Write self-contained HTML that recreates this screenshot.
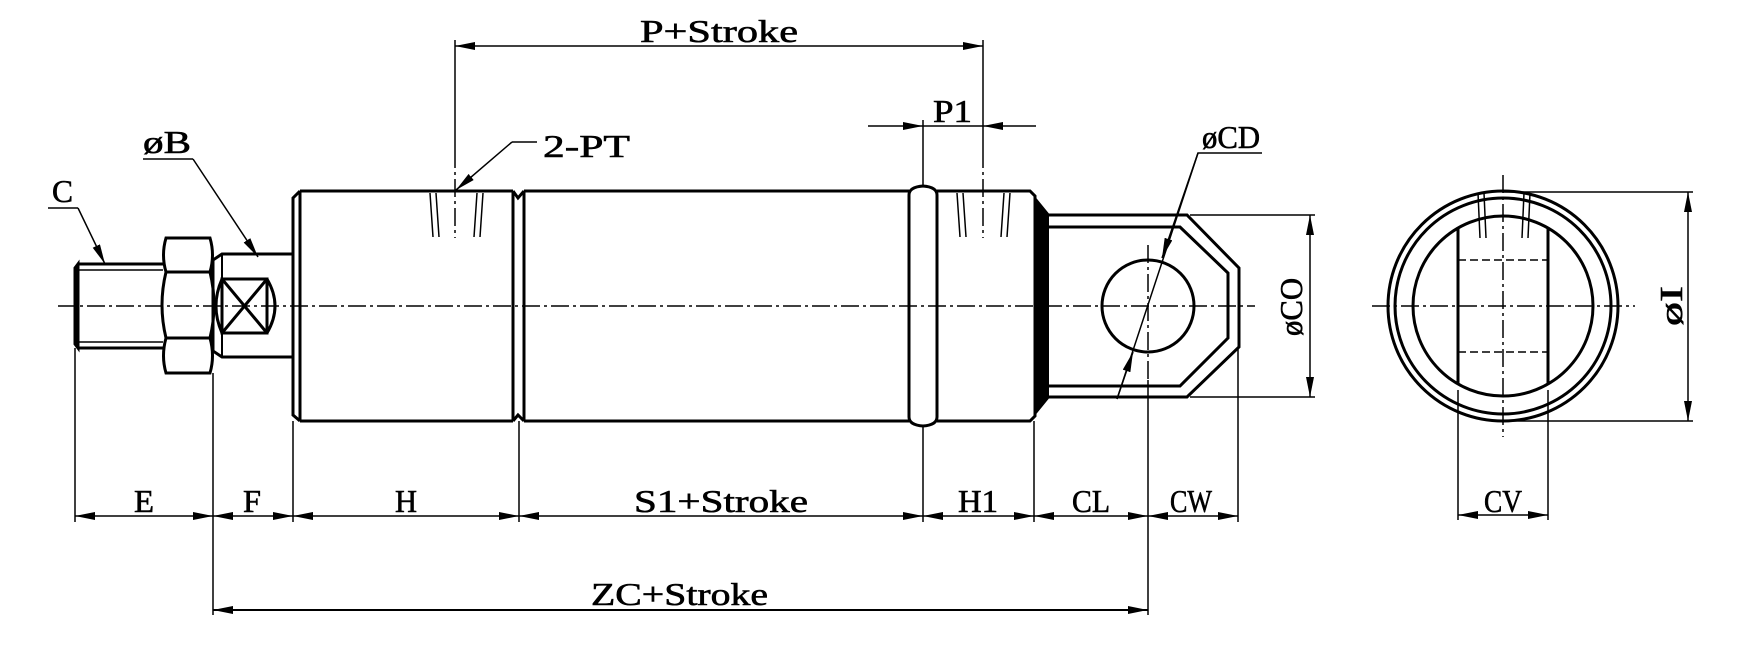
<!DOCTYPE html>
<html><head><meta charset="utf-8"><style>
html,body{margin:0;padding:0;background:#fff;}
svg{display:block;}
text{font-family:"Liberation Serif",serif;fill:#000;}
</style></head><body>
<svg width="1739" height="648" viewBox="0 0 1739 648" xmlns="http://www.w3.org/2000/svg">
<defs>
<marker id="a" viewBox="0 0 20 8" refX="20" refY="4" markerWidth="20" markerHeight="8" markerUnits="userSpaceOnUse" orient="auto-start-reverse"><path d="M0,0 L20,4 L0,8 Z" fill="#000"/></marker>
</defs>
<g stroke="#000" fill="none">
<g stroke-width="1.5" stroke-dasharray="18,4,3,4">
<line x1="58" y1="306" x2="1255" y2="306"/>
<line x1="1372" y1="306" x2="1635" y2="306"/>
<line x1="1503" y1="175" x2="1503" y2="437"/>
<line x1="1148" y1="245" x2="1148" y2="380"/>
<line x1="455" y1="150" x2="455" y2="238"/>
<line x1="983" y1="150" x2="983" y2="238"/>
</g>
<g stroke-width="3">
<path d="M78,264 L163,264 M78,348 L163,348 M78,264 L75,268 L75,344 L78,348 Z"/>
</g>
<g stroke-width="1.5"><line x1="78" y1="270" x2="163" y2="270"/><line x1="78" y1="342" x2="163" y2="342"/><line x1="78" y1="264" x2="78" y2="348"/></g>
<g stroke-width="3">
<path d="M166,238 L210,238 Q215,255 210,272 L166,272 Q161,255 166,238 Z"/>
<path d="M166,272 L210,272 Q218,305 210,338 L166,338 Q158,305 166,272 Z"/>
<path d="M166,338 L210,338 Q215,356 210,373 L166,373 Q161,356 166,338 Z"/>
</g>
<g stroke-width="3">
<path d="M292,254 L222,254 L213,260 L213,351 L222,357 L292,357"/>
<line x1="222" y1="254" x2="222" y2="357" stroke-width="2"/>
<rect x="222" y="279" width="45" height="54"/>
<path d="M222,279 L267,333 M267,279 L222,333"/>
<path d="M267,279 Q283,306 267,333"/>
<path d="M222,279 Q210,306 222,333"/>
</g>
<g stroke-width="3">
<path d="M300,191 L513,191 M300,421 L513,421"/>
<path d="M300,191 L293,198 L293,415 L300,421"/>
<line x1="300" y1="191" x2="300" y2="421"/>
<line x1="513" y1="191" x2="513" y2="421"/>
<path d="M513,191 L518,198 L524,191"/>
<path d="M513,421 L518,415 L524,421"/>
<line x1="524" y1="191" x2="524" y2="421"/>
<path d="M524,191 L909,191 M524,421 L909,421"/>
<path d="M909,195 Q909,187 923,186 Q937,187 937,195 L937,417 Q937,425 923,426 Q909,425 909,417 Z"/>
<path d="M937,191 L1030,191 L1035,196 L1035,416 L1030,421 L937,421"/>
</g>
<polygon points="1035,198 1048,214 1048,398 1035,414" fill="#000" stroke="#000" stroke-width="2"/>
<g stroke-width="3">
<path d="M1048,215 L1187,215 L1239,268 L1239,347 L1187,397 L1048,397"/>
<path d="M1048,227 L1180,227 L1228,273 L1228,338 L1180,386 L1048,386"/>
<circle cx="1148" cy="306" r="46"/>
</g>
<g stroke-width="1.5">
<path d="M430,193 L433,237 M436,193 L439,237 M477,193 L474,237 M483,193 L480,237"/>
<path d="M957,193 L960,237 M963,193 L966,237 M1004,193 L1001,237 M1010,193 L1007,237"/>
<path d="M1478,193 L1480,238 M1484,193 L1486,238 M1530,193 L1528,238 M1524,193 L1522,238"/>
</g>
<g stroke-width="3">
<circle cx="1503" cy="306" r="115"/>
<circle cx="1503" cy="306" r="108"/>
<circle cx="1503" cy="306" r="90"/>
<line x1="1458" y1="227" x2="1458" y2="384"/>
<line x1="1548" y1="227" x2="1548" y2="384"/>
</g>
<g stroke-width="1.5" stroke-dasharray="8,4">
<line x1="1458" y1="260" x2="1548" y2="260"/><line x1="1458" y1="352" x2="1548" y2="352"/>
</g>
<g stroke-width="1.5">
<path d="M48,208 L78,208"/>
<path d="M143,159 L193,159"/>
<path d="M537,142 L512,142"/>
<path d="M1262,153 L1198,153 L1117,399"/>
<line x1="1198" y1="153" x2="1162" y2="258" marker-end="url(#a)"/>
<line x1="1117" y1="399" x2="1133" y2="352" marker-end="url(#a)"/>
<line x1="78" y1="208" x2="105" y2="264" marker-end="url(#a)"/>
<line x1="193" y1="159" x2="258" y2="257" marker-end="url(#a)"/>
<line x1="512" y1="142" x2="456" y2="190" marker-end="url(#a)"/>
<line x1="455" y1="40" x2="455" y2="150"/>
<line x1="983" y1="40" x2="983" y2="150"/>
<line x1="923" y1="120" x2="923" y2="185"/>
<line x1="455" y1="46" x2="983" y2="46" marker-start="url(#a)" marker-end="url(#a)"/>
<line x1="868" y1="126" x2="923" y2="126" marker-end="url(#a)"/>
<line x1="1036" y1="126" x2="983" y2="126" marker-end="url(#a)"/>
<line x1="923" y1="126" x2="983" y2="126"/>
<line x1="1190" y1="215" x2="1315" y2="215"/>
<line x1="1190" y1="397" x2="1315" y2="397"/>
<line x1="1310" y1="215" x2="1310" y2="397" marker-start="url(#a)" marker-end="url(#a)"/>
<line x1="1503" y1="192" x2="1693" y2="192"/>
<line x1="1503" y1="421" x2="1693" y2="421"/>
<line x1="1688" y1="192" x2="1688" y2="421" marker-start="url(#a)" marker-end="url(#a)"/>
<line x1="75" y1="348" x2="75" y2="522"/>
<line x1="213" y1="373" x2="213" y2="615"/>
<line x1="293" y1="421" x2="293" y2="522"/>
<line x1="519" y1="421" x2="519" y2="522"/>
<line x1="923" y1="426" x2="923" y2="522"/>
<line x1="1034" y1="421" x2="1034" y2="522"/>
<line x1="1148" y1="380" x2="1148" y2="615"/>
<line x1="1238" y1="347" x2="1238" y2="522"/>
<line x1="1458" y1="390" x2="1458" y2="520"/>
<line x1="1548" y1="390" x2="1548" y2="520"/>
<line x1="75" y1="516" x2="213" y2="516" marker-start="url(#a)" marker-end="url(#a)"/>
<line x1="213" y1="516" x2="293" y2="516" marker-start="url(#a)" marker-end="url(#a)"/>
<line x1="293" y1="516" x2="519" y2="516" marker-start="url(#a)" marker-end="url(#a)"/>
<line x1="519" y1="516" x2="923" y2="516" marker-start="url(#a)" marker-end="url(#a)"/>
<line x1="923" y1="516" x2="1034" y2="516" marker-start="url(#a)" marker-end="url(#a)"/>
<line x1="1034" y1="516" x2="1148" y2="516" marker-start="url(#a)" marker-end="url(#a)"/>
<line x1="1148" y1="516" x2="1238" y2="516" marker-start="url(#a)" marker-end="url(#a)"/>
<line x1="1458" y1="515" x2="1548" y2="515" marker-start="url(#a)" marker-end="url(#a)"/>
<line x1="213" y1="610" x2="1148" y2="610" marker-start="url(#a)" marker-end="url(#a)" stroke-width="2"/>
</g>
</g>
<g font-size="32" stroke="#000" stroke-width="0.6">
<text x="640" y="42" textLength="158" lengthAdjust="spacingAndGlyphs">P+Stroke</text>
<text x="933" y="122" textLength="39" lengthAdjust="spacingAndGlyphs">P1</text>
<text x="543" y="157" textLength="87" lengthAdjust="spacingAndGlyphs">2-PT</text>
<text x="143" y="153" textLength="48" lengthAdjust="spacingAndGlyphs">øB</text>
<text x="52" y="202" textLength="21" lengthAdjust="spacingAndGlyphs">C</text>
<text x="1202" y="148" textLength="58" lengthAdjust="spacingAndGlyphs">øCD</text>
<text transform="translate(1302,336) rotate(-90)" textLength="58" lengthAdjust="spacingAndGlyphs">øCO</text>
<text transform="translate(1682,326) rotate(-90)" textLength="40" lengthAdjust="spacingAndGlyphs">øI</text>
<text x="134" y="512" textLength="20" lengthAdjust="spacingAndGlyphs">E</text>
<text x="243" y="512" textLength="18" lengthAdjust="spacingAndGlyphs">F</text>
<text x="395" y="512" textLength="22" lengthAdjust="spacingAndGlyphs">H</text>
<text x="634" y="512" textLength="174" lengthAdjust="spacingAndGlyphs">S1+Stroke</text>
<text x="958" y="512" textLength="40" lengthAdjust="spacingAndGlyphs">H1</text>
<text x="1072" y="512" textLength="38" lengthAdjust="spacingAndGlyphs">CL</text>
<text x="1170" y="512" textLength="42" lengthAdjust="spacingAndGlyphs">CW</text>
<text x="1484" y="512" textLength="38" lengthAdjust="spacingAndGlyphs">CV</text>
<text x="591" y="605" textLength="177" lengthAdjust="spacingAndGlyphs">ZC+Stroke</text>
</g>
</svg>
</body></html>
